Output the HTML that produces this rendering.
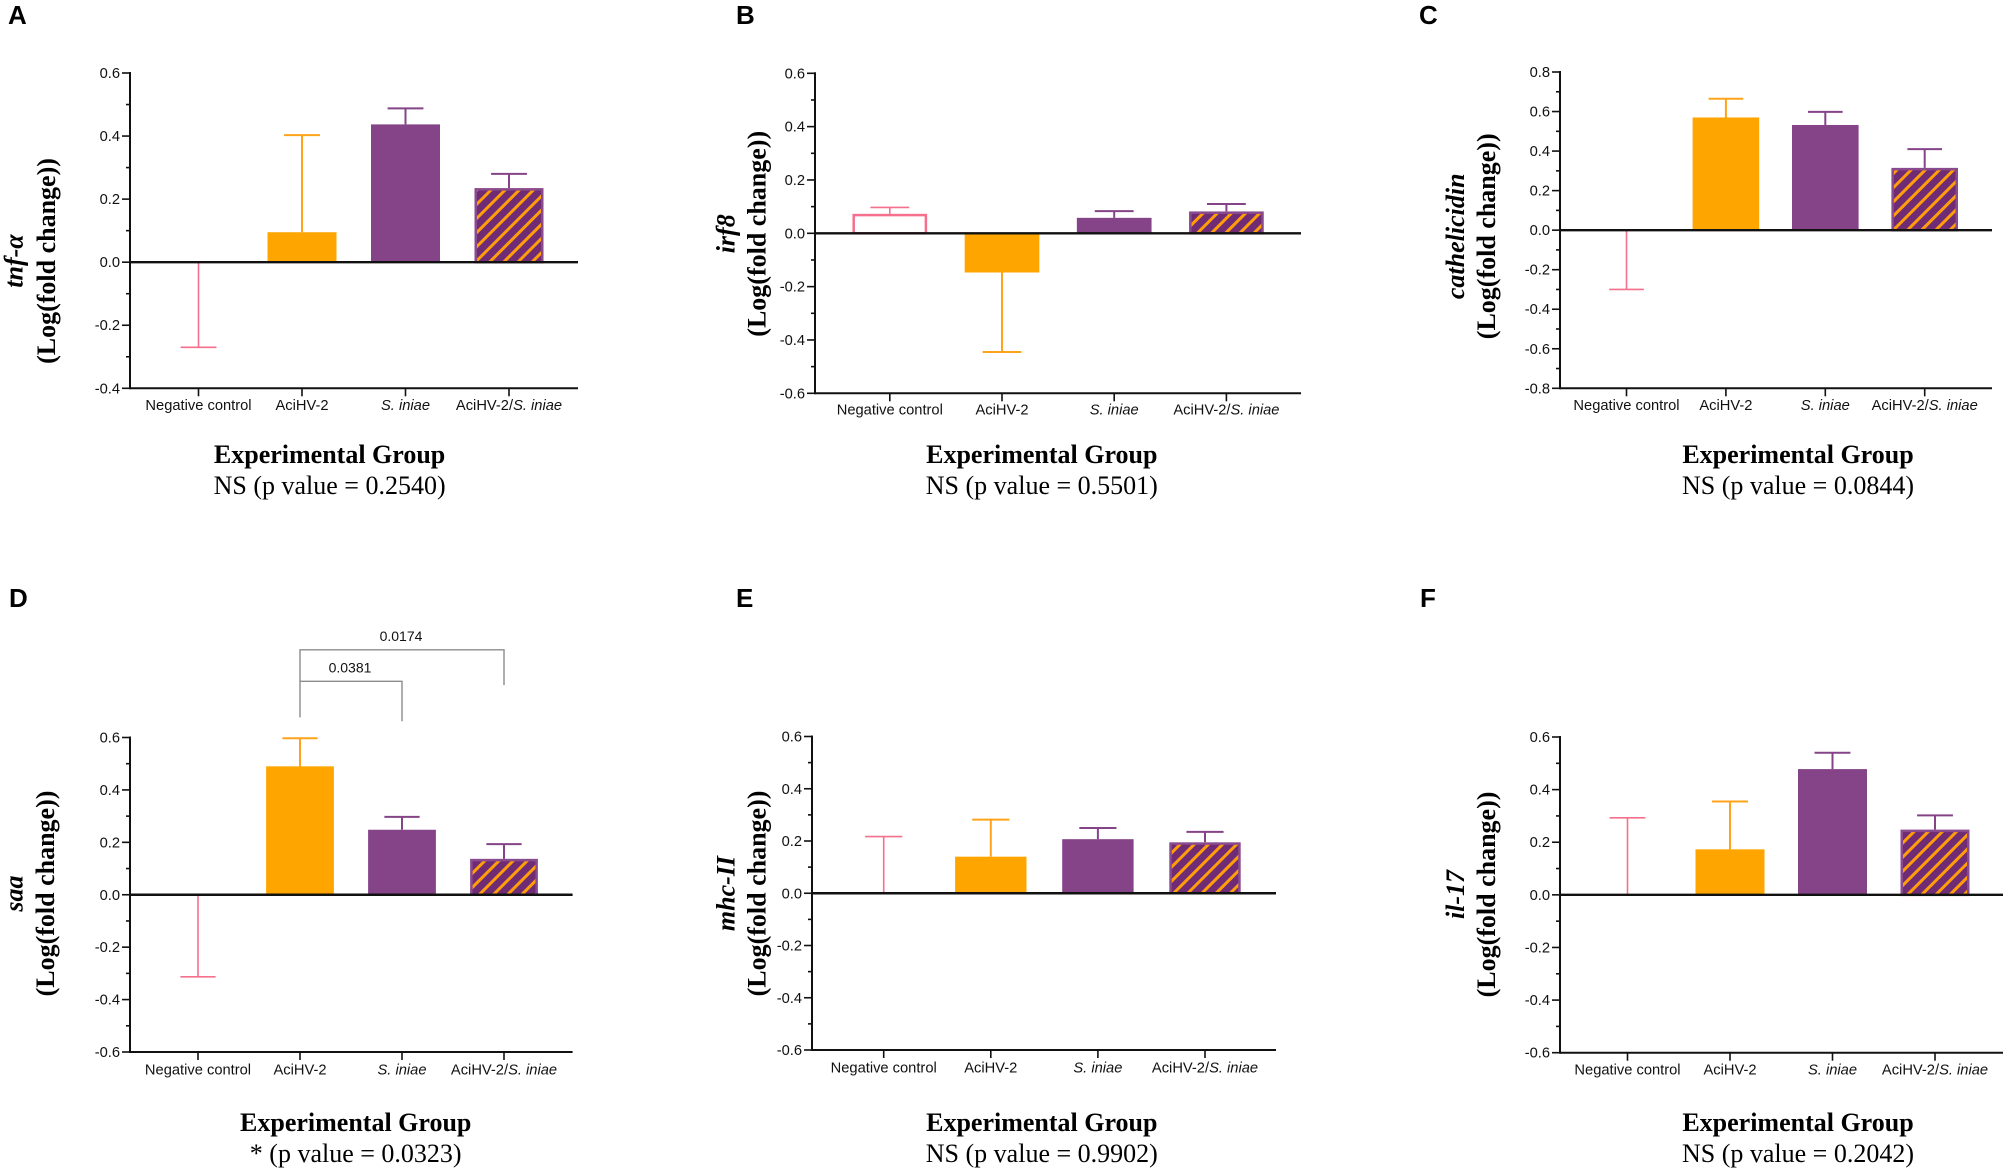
<!DOCTYPE html>
<html lang="en">
<head>
<meta charset="utf-8">
<title>Gene expression by experimental group</title>
<style>
html,body{margin:0;padding:0;background:#fff;}
svg{display:block;}
.tick{font:14.7px "Liberation Sans",sans-serif;fill:#111;}
.cat{font:14.7px "Liberation Sans",sans-serif;fill:#111;}
.big{font:bold 26px "Liberation Serif",serif;fill:#000;}
.sub{font:26px "Liberation Serif",serif;fill:#000;}
.gene{font:italic bold 26px "Liberation Serif",serif;fill:#000;}
.letter{font:bold 26px "Liberation Sans",sans-serif;fill:#000;}
.pv{font:14px "Liberation Sans",sans-serif;fill:#111;}
</style>
</head>
<body>
<svg id="figure" xmlns="http://www.w3.org/2000/svg" width="2008" height="1172" viewBox="0 0 2008 1172">
<defs>
<pattern id="hatch" patternUnits="userSpaceOnUse" width="10" height="10" patternTransform="rotate(45)">
<rect width="10" height="10" fill="#6f2b73"/>
<rect x="0" y="0" width="3" height="10" fill="#ff9e0a"/>
</pattern>
</defs>
</svg>
<script>
const categories = ['Negative control', 'AciHV-2', 'S. iniae', 'AciHV-2/S. iniae'];

const ticksSix = ['-0.6', '-0.4', '-0.2', '0.0', '0.2', '0.4', '0.6'];
const ticksTnf = ['-0.4', '-0.2', '0.0', '0.2', '0.4', '0.6'];
const ticksEight = ['-0.8', '-0.6', '-0.4', '-0.2', '0.0', '0.2', '0.4', '0.6', '0.8'];

const tnfMeans = [0, 0.095, 0.437, 0.235];
const tnfErrorEnds = [-0.27, 0.403, 0.488, 0.28];
const irfMeans = [0.073, -0.147, 0.058, 0.082];
const irfErrorEnds = [0.097, -0.445, 0.083, 0.11];
const cathMeans = [0, 0.57, 0.532, 0.315];
const cathErrorEnds = [-0.30, 0.665, 0.598, 0.41];
const saaMeans = [0, 0.49, 0.248, 0.137];
const saaErrorEnds = [-0.313, 0.597, 0.297, 0.193];
const mhcMeans = [0, 0.14, 0.207, 0.195];
const mhcErrorEnds = [0.217, 0.282, 0.25, 0.235];
const ilMeans = [0, 0.173, 0.478, 0.248];
const ilErrorEnds = [0.293, 0.355, 0.54, 0.302];

const panels = [
  {letter:'A', gene:'tnf-α', slug:'tnf-alpha', means:tnfMeans, ends:tnfErrorEnds, ticks:ticksTnf, p:'NS (p value = 0.2540)',
   lx:8, ly:24, left:130, right:578, top:73, bottom:388.3, cat0:198.5, step:103.5, barW:69, catY:410,
   t1:22.5, t2:55, tc:261, tx:329.6, by:463},
  {letter:'B', gene:'irf8', slug:'irf8', means:irfMeans, ends:irfErrorEnds, ticks:ticksSix, p:'NS (p value = 0.5501)',
   lx:736, ly:24, left:815, right:1301, top:73.3, bottom:393.3, cat0:889.8, step:112.2, barW:74.7, catY:414.5,
   t1:734.7, t2:765.3, tc:233.8, tx:1041.8, by:463},
  {letter:'C', gene:'cathelicidin', slug:'cathelicidin', means:cathMeans, ends:cathErrorEnds, ticks:ticksEight, p:'NS (p value = 0.0844)',
   lx:1419, ly:24, left:1560, right:1992, top:72, bottom:388.3, cat0:1626.5, step:99.4, barW:66.6, catY:410,
   t1:1464, t2:1495, tc:236.3, tx:1798, by:463},
  {letter:'D', gene:'saa', slug:'saa', means:saaMeans, ends:saaErrorEnds, ticks:ticksSix, p:'* (p value = 0.0323)',
   lx:9, ly:607, left:130, right:572.6, top:737.5, bottom:1052, cat0:198, step:102, barW:67.8, catY:1074.5,
   t1:22.5, t2:54, tc:893.5, tx:355.7, by:1131},
  {letter:'E', gene:'mhc-II', slug:'mhc-ii', means:mhcMeans, ends:mhcErrorEnds, ticks:ticksSix, p:'NS (p value = 0.9902)',
   lx:736, ly:607, left:812, right:1276, top:736.5, bottom:1050, cat0:883.7, step:107.1, barW:71.4, catY:1072.5,
   t1:734.7, t2:765.3, tc:893.5, tx:1041.8, by:1131},
  {letter:'F', gene:'il-17', slug:'il-17', means:ilMeans, ends:ilErrorEnds, ticks:ticksSix, p:'NS (p value = 0.2042)',
   lx:1420, ly:607, left:1560, right:2003, top:737, bottom:1052.7, cat0:1627.5, step:102.5, barW:69, catY:1074.5,
   t1:1464, t2:1495, tc:894.5, tx:1798, by:1131}
];

const saaComparisons = [
  {from:1, to:3, label:'0.0174'},
  {from:1, to:2, label:'0.0381'}
];

const NS = 'http://www.w3.org/2000/svg';
const figure = document.getElementById('figure');
const barColors = ['#ffffff', '#ffa500', '#854488', 'url(#hatch)'];
const errorColors = ['#f5708c', '#ffa31a', '#854488', '#854488'];
const errorWidths = [1.6, 2, 2, 2];
const keys = ['negative-control', 'acihv2', 's-iniae', 'acihv2-s-iniae'];

function make(tag, attrs, parent) {
  const node = document.createElementNS(NS, tag);
  for (const k in attrs) node.setAttribute(k, attrs[k]);
  parent.appendChild(node);
  return node;
}
function addCategoryText(node, label) {
  const cut = label.indexOf('S. iniae');
  if (cut < 0) { node.textContent = label; return; }
  if (cut > 0) {
    const plain = make('tspan', {}, node);
    plain.textContent = label.slice(0, cut);
  }
  const ital = make('tspan', {'font-style':'italic'}, node);
  ital.textContent = 'S. iniae';
}

panels.forEach(function (p) {
  const g = make('g', {}, figure);
  
  

  const tickValues = p.ticks.map(Number);
  const tMin = tickValues[0];
  const tMax = tickValues[tickValues.length - 1];
  const yOf = function (v) { return p.bottom - (v - tMin) / (tMax - tMin) * (p.bottom - p.top); };
  const xOf = function (i) { return p.cat0 + i * p.step; };

  const letter = make('text', {class:'letter', x:p.lx, y:p.ly}, g);
  letter.textContent = p.letter;
  
  

  // bars
  p.means.forEach(function (m, i) {
    const y0 = yOf(0), yv = yOf(m), cx = xOf(i);
    const end = yOf(p.ends[i]);
    const cap = p.barW * 0.52;
    const err = make('path', {d:'M' + cx + ' ' + yv + 'V' + end + 'M' + (cx - cap / 2) + ' ' + end + 'H' + (cx + cap / 2),
      fill:'none', stroke:errorColors[i], 'stroke-width':errorWidths[i]}, g);
    
    

    const isNeg = i === 0;
    const isHatch = i === 3;
    const inset = (isNeg || isHatch) ? 1.25 : 0;
    const bar = make('rect', {
      x:cx - p.barW / 2 + inset,
      y:Math.min(y0, yv) + inset,
      width:p.barW - inset * 2,
      height:Math.max(0, Math.abs(y0 - yv) - inset),
      fill:barColors[i]
    }, g);
    if (isNeg) { bar.setAttribute('stroke', errorColors[0]); bar.setAttribute('stroke-width', m === 0 ? 0 : 2.5); }
    if (isHatch) { bar.setAttribute('stroke', '#8a4a8e'); bar.setAttribute('stroke-width', 2.5); }
    
    
  });

  // y axis
  const yAxis = make('line', {x1:p.left, x2:p.left, y1:p.top - 1, y2:p.bottom + 1, stroke:'#111', 'stroke-width':2}, g);
  
  

  tickValues.forEach(function (v, i) {
    const y = yOf(v);
    const tick = make('line', {x1:p.left - 8, x2:p.left, y1:y, y2:y, stroke:'#111', 'stroke-width':1.6}, g);
    
    
    const lab = make('text', {class:'tick', x:p.left - 10, y:y + 5, 'text-anchor':'end'}, g);
    lab.textContent = p.ticks[i];
    
    
    if (i < tickValues.length - 1) {
      const my = yOf((v + tickValues[i + 1]) / 2);
      const minor = make('line', {x1:p.left - 4, x2:p.left, y1:my, y2:my, stroke:'#111', 'stroke-width':1.6}, g);
      
      
    }
  });

  // baseline and bottom axis
  const zero = make('line', {x1:p.left, x2:p.right, y1:yOf(0), y2:yOf(0), stroke:'#111', 'stroke-width':2.4}, g);
  
  
  const xAxis = make('line', {x1:p.left, x2:p.right, y1:p.bottom, y2:p.bottom, stroke:'#111', 'stroke-width':2}, g);
  
  

  categories.forEach(function (c, i) {
    const t = make('line', {x1:xOf(i), x2:xOf(i), y1:p.bottom, y2:p.bottom + 8, stroke:'#111', 'stroke-width':1.6}, g);
    
    
    const lab = make('text', {class:'cat', x:xOf(i), y:p.catY, 'text-anchor':'middle'}, g);
    addCategoryText(lab, c);
    
    
  });

  // y titles
  const gene = make('text', {class:'gene', 'text-anchor':'middle', transform:'translate(' + p.t1 + ' ' + p.tc + ') rotate(-90)'}, g);
  gene.textContent = p.gene;
  
  
  const unit = make('text', {class:'big', 'text-anchor':'middle', transform:'translate(' + p.t2 + ' ' + p.tc + ') rotate(-90)'}, g);
  unit.textContent = '(Log(fold change))';
  
  

  // x titles
  const xt = make('text', {class:'big', x:p.tx, y:p.by, 'text-anchor':'middle'}, g);
  xt.textContent = 'Experimental Group';
  
  
  const pv = make('text', {class:'sub', x:p.tx, y:p.by + 31, 'text-anchor':'middle'}, g);
  pv.textContent = p.p;
  
  

  // significance brackets (panel D)
  if (p.slug === 'saa') {
    const tops = [649.8, 681.3];
    const leftEnds = [681.3, 717.4];
    const rightEnds = [685.1, 721.2];
    saaComparisons.forEach(function (c, k) {
      const x1 = xOf(c.from), x2 = xOf(c.to);
      const br = make('path', {d:'M' + x1 + ' ' + leftEnds[k] + 'V' + tops[k] + 'H' + x2 + 'V' + rightEnds[k], fill:'none', stroke:'#8c8c8c', 'stroke-width':1.4}, g);
      
      
      const lab = make('text', {class:'pv', x:k === 0 ? (x1 + x2) / 2 - 1 : (x1 + x2) / 2 - 1, y:tops[k] - 9, 'text-anchor':'middle'}, g);
      lab.textContent = c.label;
      
      
    });
  }
});
</script>
</body>
</html>
